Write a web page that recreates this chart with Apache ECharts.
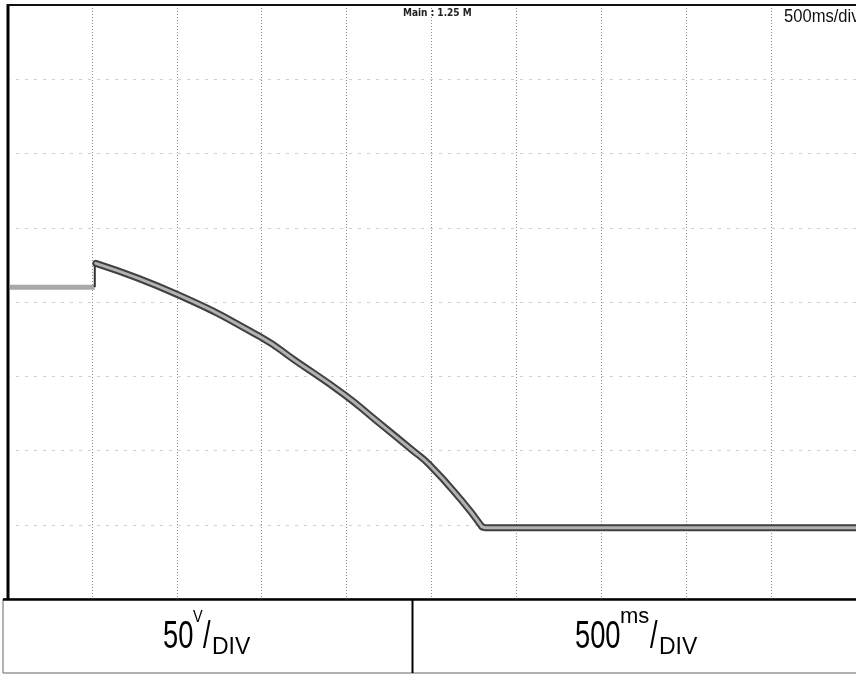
<!DOCTYPE html>
<html>
<head>
<meta charset="utf-8">
<script src="https://cdn.jsdelivr.net/npm/echarts@6/dist/echarts.min.js"></script>
<style>
html,body{margin:0;padding:0;background:#fff;}
#c{width:856px;height:675px;}
</style>
</head>
<body>
<div id="c"></div>
<script>
// time in ms (500 ms/div), voltage in V (50 V/div)
var preTimes = [17, 517];
var preVolts = [160, 160];
var jumpTimes = [517, 517];
var jumpVolts = [160, 176];
var curveTimes = [523, 1006, 1500, 1692, 1988, 2169, 2384, 2488, 2674, 2797];
var curveVolts = [176, 154.9, 126, 111, 87.5, 70.7, 50.5, 40.4, 16.8, -1.3];
var flatTimes = [2797, 2815, 5100];
var flatVolts = [-1.3, -2, -2];
var xTicksMs = [0, 500, 1000, 1500, 2000, 2500, 3000, 3500, 4000, 4500, 5000];
var yTicksV = [-50, 0, 50, 100, 150, 200, 250, 300, 350];
var headerMain = 'Main : 1.25 M';
var headerTime = '500ms/div';

function pairs(xs, ys){ return xs.map(function(x,i){ return [x, ys[i]]; }); }

var chart = echarts.init(document.getElementById('c'), null, {renderer:'canvas'});
var FONT = '"Liberation Sans", Arial, sans-serif';
var DARK = { color: '#404040', width: 7, join: 'round', cap: 'round' };
var LIGHT = { color: '#b2b2b2', width: 3, join: 'round', cap: 'round' };

chart.setOption({
  animation: false,
  backgroundColor: '#ffffff',
  grid: { left: 7, top: 5, width: 860, height: 594, containLabel: false },
  xAxis: {
    type: 'value', min: xTicksMs[0], max: xTicksMs[xTicksMs.length-1], interval: 500,
    axisLine: {show:false}, axisTick: {show:false}, axisLabel: {show:false},
    splitLine: { show: true, lineStyle: { color: '#8f8f8f', width: 1, type: [1, 2] } }
  },
  yAxis: {
    type: 'value', min: yTicksV[0], max: yTicksV[yTicksV.length-1], interval: 50,
    axisLine: {show:false}, axisTick: {show:false}, axisLabel: {show:false},
    splitLine: { show: true, lineStyle: { color: '#cfcfcf', width: 1, type: [3, 6] } }
  },
  series: [
    { type: 'line', data: pairs(preTimes, preVolts), showSymbol: false, silent: true,
      lineStyle: { color: '#a8a8a8', width: 5 }, z: 3 },
    { type: 'line', data: pairs(jumpTimes, jumpVolts), showSymbol: false, silent: true,
      lineStyle: { color: '#333333', width: 2 }, z: 3 },
    { type: 'line', data: pairs(curveTimes, curveVolts), showSymbol: false, silent: true,
      smooth: 0.5, lineStyle: DARK, z: 4 },
    { type: 'line', data: pairs(flatTimes, flatVolts), showSymbol: false, silent: true,
      lineStyle: DARK, z: 4 },
    { type: 'line', data: pairs(curveTimes, curveVolts), showSymbol: false, silent: true,
      smooth: 0.5, lineStyle: LIGHT, z: 5 },
    { type: 'line', data: pairs(flatTimes, flatVolts), showSymbol: false, silent: true,
      lineStyle: LIGHT, z: 5 }
  ],
  graphic: [
    // scope frame
    { type: 'line', shape: { x1: 8, y1: 4, x2: 8, y2: 600 }, style: { stroke: '#000', lineWidth: 3 }, z: 10 },
    { type: 'line', shape: { x1: 7, y1: 5, x2: 870, y2: 5 }, style: { stroke: '#111', lineWidth: 2 }, z: 10 },
    // header texts
    { type: 'text', x: 403, y: 13, style: { text: headerMain, font: 'bold 10px "DejaVu Sans Condensed", "DejaVu Sans", sans-serif', fill: '#222', verticalAlign: 'middle' }, z: 10 },
    { type: 'text', x: 784, y: 17, scaleX: 0.92, style: { text: headerTime, font: '18px ' + FONT, fill: '#111', verticalAlign: 'middle' }, z: 10 },
    // bottom table
    { type: 'rect', shape: { x: 3, y: 599, width: 870, height: 74 }, style: { fill: '#fff', stroke: '#666', lineWidth: 1 }, z: 9 },
    { type: 'line', shape: { x1: 3, y1: 599.5, x2: 870, y2: 599.5 }, style: { stroke: '#000', lineWidth: 2.5 }, z: 10 },
    { type: 'line', shape: { x1: 412.5, y1: 599, x2: 412.5, y2: 673 }, style: { stroke: '#000', lineWidth: 2 }, z: 10 },
    // left cell: 50 V/DIV
    { type: 'text', x: 163, y: 637, scaleX: 0.7, style: { text: '50', font: '39px ' + FONT, fill: '#000', verticalAlign: 'middle' }, z: 11 },
    { type: 'text', x: 193, y: 617, scaleX: 0.85, style: { text: 'V', font: '17px ' + FONT, fill: '#000', verticalAlign: 'middle' }, z: 11 },
    { type: 'text', x: 203, y: 637, scaleX: 0.7, style: { text: '/', font: '39px ' + FONT, fill: '#000', verticalAlign: 'middle' }, z: 11 },
    { type: 'text', x: 212, y: 648, scaleX: 1.0, style: { text: 'DIV', font: '23px ' + FONT, fill: '#000', verticalAlign: 'middle' }, z: 11 },
    // right cell: 500 ms/DIV
    { type: 'text', x: 575, y: 637, scaleX: 0.7, style: { text: '500', font: '39px ' + FONT, fill: '#000', verticalAlign: 'middle' }, z: 11 },
    { type: 'text', x: 620, y: 617, scaleX: 1.0, style: { text: 'ms', font: '22px ' + FONT, fill: '#000', verticalAlign: 'middle' }, z: 11 },
    { type: 'text', x: 650, y: 637, scaleX: 0.7, style: { text: '/', font: '39px ' + FONT, fill: '#000', verticalAlign: 'middle' }, z: 11 },
    { type: 'text', x: 659, y: 648, scaleX: 1.0, style: { text: 'DIV', font: '23px ' + FONT, fill: '#000', verticalAlign: 'middle' }, z: 11 }
  ]
});
</script>
</body>
</html>
